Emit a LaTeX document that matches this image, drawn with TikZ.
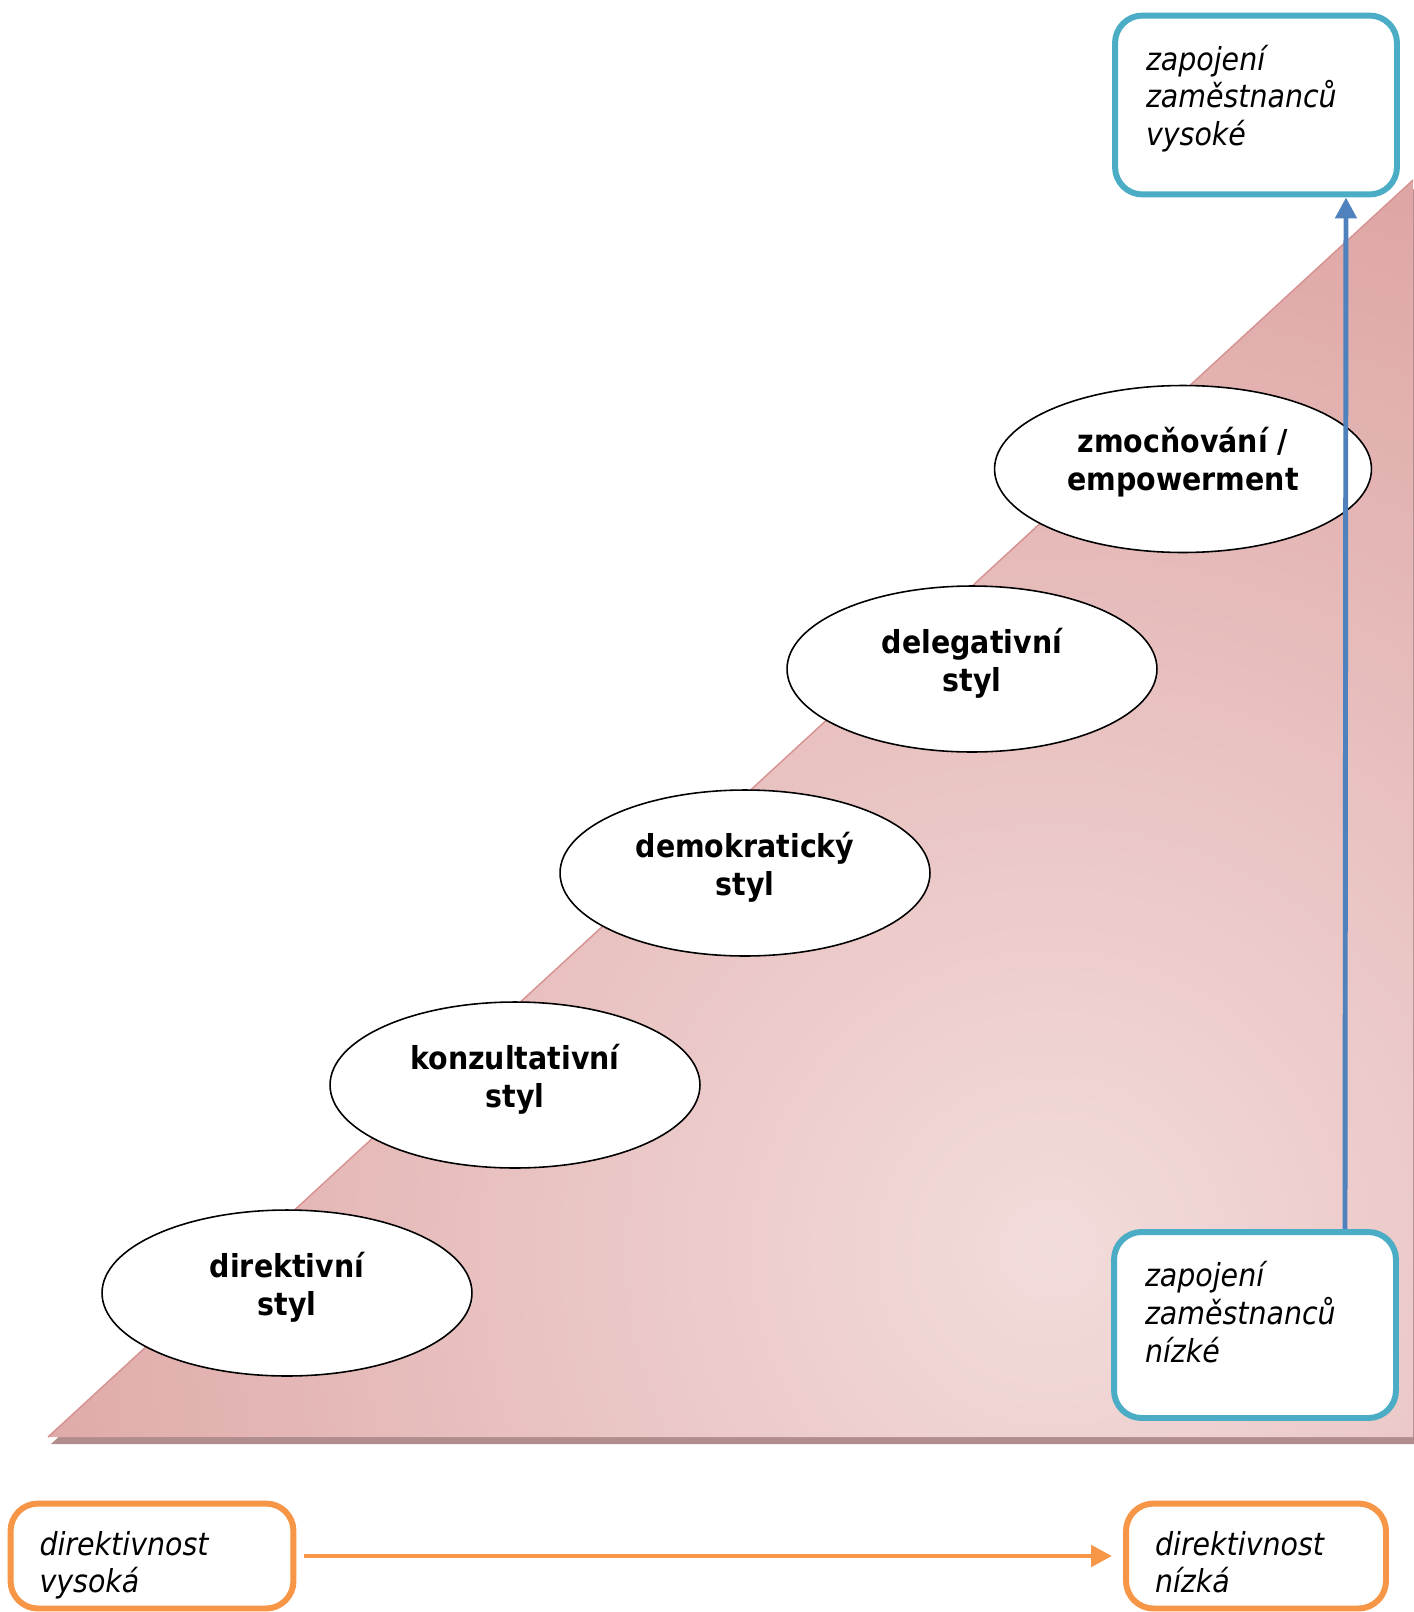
\documentclass[tikz,border=0pt]{standalone}
\usepackage{fontspec}
\setmainfont{DejaVu Sans Condensed}
\usepackage{tikz}
\usetikzlibrary{arrows.meta,positioning,shapes.geometric}
\definecolor{stairdark}{HTML}{D69190}
\definecolor{stairlight}{HTML}{F2DCDB}
\definecolor{stairshadow}{HTML}{B08C8C}
\definecolor{engblue}{HTML}{4BACC6}
\definecolor{arrblue}{HTML}{4F81BD}
\definecolor{dirorange}{HTML}{F79646}

\begin{document}
\begin{tikzpicture}[
    x=0.02cm, y=-0.02cm,
    stage/.style={ellipse, draw, line width=0.9pt, fill=white, minimum width=7.4cm, minimum height=3.32cm, inner sep=0pt, align=center, text height=1.1cm, text depth=0.2cm, font=\fontsize{18}{21.6}\selectfont\bfseries},
    box/.style={draw, rounded corners=0.55cm, fill=white, line width=3.4pt, align=left, inner ysep=0pt, inner xsep=0.62cm, text height=0.5cm, font=\fontsize{18}{21.6}\selectfont\itshape},
    engage/.style={box, draw=engblue, minimum width=5.64cm, text width=4.4cm},
    direct/.style={box, draw=dirorange, minimum height=2.1cm, inner xsep=0.58cm, text depth=0.54cm},
    arrowblue/.style={-{Triangle[length=0.42cm, width=0.42cm]}, line width=2.8pt, draw=arrblue},
    arroworange/.style={-{Triangle[length=0.42cm, width=0.42cm]}, line width=2.8pt, draw=dirorange}
]
\useasboundingbox (0,0) rectangle (1413,1612);
% background stair
\fill[stairshadow] (51,1444) -- (1416,187) -- (1416,1444) -- cycle;
\begin{scope}
  \clip (48,1437) -- (1413,180) -- (1413,1437) -- cycle;
  \shade[inner color=stairlight, outer color=stairdark] (1050,1250) circle (1560);
\end{scope}
\draw[stairdark, line width=0.8pt] (48,1437) -- (1413,180);
% styles
\node[stage] (directive) at (287,1293) {direktivní\\styl};
\node[stage] (consult) at (515,1085) {konzultativní\\styl};
\node[stage] (democ) at (745,873) {demokratický\\styl};
\node[stage] (deleg) at (972,669) {delegativní\\styl};
\node[stage, minimum width=7.54cm, minimum height=3.34cm, text height=1.06cm] (empower) at (1183,469) {zmocňování /\\empowerment};
% involvement
\node[engage, minimum height=3.58cm, text depth=1.9cm] (highinv) at (1256,105) {zapojení\\zaměstnanců\\vysoké};
\node[engage, minimum height=3.72cm, text depth=2.04cm] (lowinv) at (1255,1325) {zapojení\\zaměstnanců\\nízké};
\draw[arrowblue] ([xshift=1.8cm]lowinv.north) -- ([xshift=1.8cm]highinv.south);
% directivity
\node[direct, minimum width=5.66cm, text width=4.5cm] (highdir) at (152,1556) {direktivnost\\vysoká};
\node[direct, minimum width=5.2cm, text width=4.04cm] (lowdir) at (1256,1556) {direktivnost\\nízká};
\draw[arroworange, shorten <=0.16cm, shorten >=0.22cm] (highdir) -- (lowdir);
\end{tikzpicture}
\end{document}
